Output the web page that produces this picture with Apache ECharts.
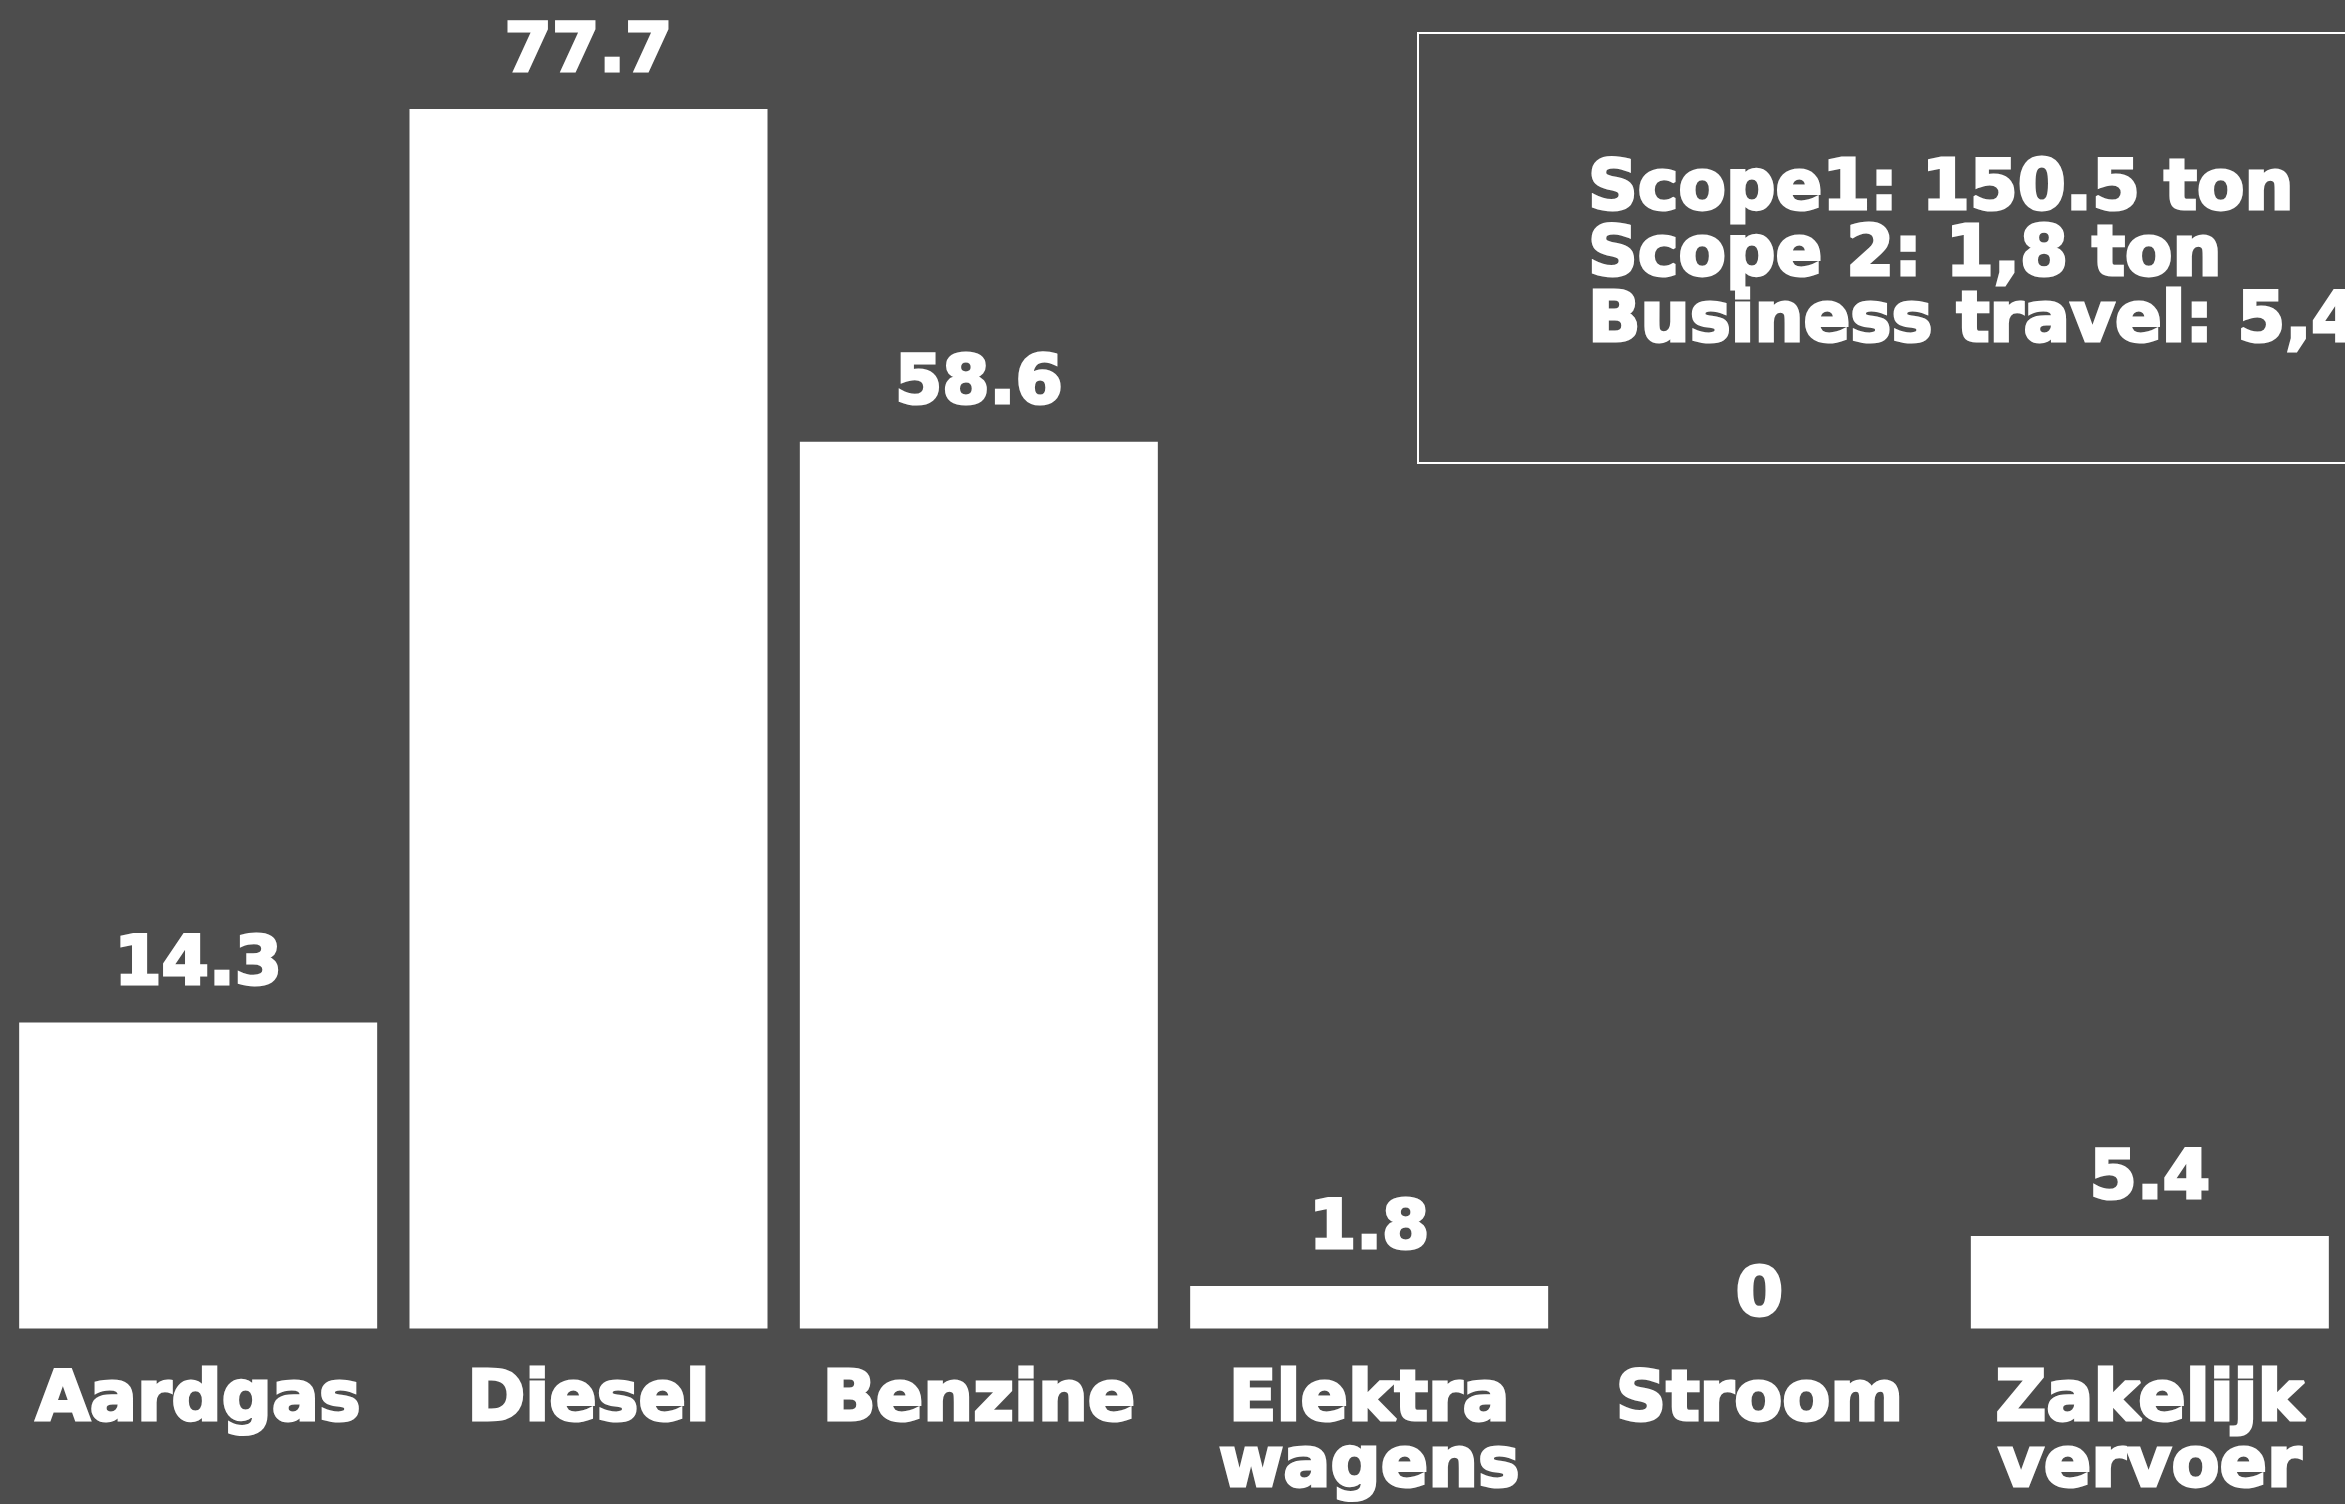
<!DOCTYPE html>
<html>
<head>
<meta charset="utf-8">
<title>CO2 uitstoot</title>
<script src="https://cdn.jsdelivr.net/npm/echarts@6/dist/echarts.min.js"></script>
<style>
	html, body { margin: 0; padding: 0; background: #4d4d4d; }
	#chart { width: 2345px; height: 1504px; }
</style>
</head>
<body>
<div id="chart"></div>
<script>
var categories = ['Aardgas', 'Diesel', 'Benzine', 'Elektra\nwagens', 'Stroom', 'Zakelijk\nvervoer'];
// labels as printed above the bars
var labelValues = [14.3, 77.7, 58.6, 1.8, 0, 5.4];
// bar heights as drawn in the picture (the original is not to scale with its labels)
var barHeights = [19.5, 77.7, 56.5, 2.7, 0, 5.9];
var summaryLines = ['Scope1: 150.5 ton', 'Scope 2: 1,8 ton', 'Business travel: 5,4 ton'];

var FONT = '"DejaVu Sans", Verdana, sans-serif';
// the source lettering is heavier than DejaVu Bold, so thicken it with a white outline
var HEAVY = { textBorderColor: '#ffffff', textBorderWidth: 3 };

/*-----uitstoot grafiek S------*/
function drawUitstootChart(id){
	var seriesData = [];
	for(var i = 0; i < barHeights.length; i++){
		var item = { value: barHeights[i] };
		if(labelValues[i] === 0){
			item.label = { offset: [0, 25] };
		}
		seriesData.push(item);
	}
	var option = {
		backgroundColor: '#4d4d4d',
		animation: false,
		grid: {
			left: 3,
			right: -13,
			top: 109,
			bottom: 173.5
		},
		xAxis: {
			type: 'category',
			data: categories,
			axisLine: { show: false },
			axisTick: { show: false },
			splitLine: { show: false },
			axisLabel: {
				interval: 0,
				margin: 40,
				color: '#ffffff',
				fontFamily: FONT,
				fontWeight: 'bold',
				fontSize: 70,
				lineHeight: 66,
				textBorderColor: HEAVY.textBorderColor,
				textBorderWidth: HEAVY.textBorderWidth
			}
		},
		yAxis: {
			type: 'value',
			min: 0,
			max: 77.7,
			show: false,
			splitLine: { show: false }
		},
		series: [
			{
				type: 'bar',
				data: seriesData,
				barWidth: 358,
				itemStyle: { color: '#ffffff' },
				label: {
					show: true,
					position: 'top',
					distance: 20,
					color: '#ffffff',
					fontFamily: FONT,
					fontWeight: 'bold',
					fontSize: 68,
					lineHeight: 72,
					textBorderColor: HEAVY.textBorderColor,
					textBorderWidth: HEAVY.textBorderWidth,
					formatter: function(p){
						return String(labelValues[p.dataIndex]);
					}
				}
			}
		],
		graphic: [
			{
				type: 'rect',
				shape: { x: 1418, y: 33, width: 1000, height: 430 },
				style: { fill: 'none', stroke: '#ffffff', lineWidth: 2 }
			},
			{
				type: 'text',
				x: 1588,
				y: 158,
				style: {
					text: summaryLines.join('\n'),
					fill: '#ffffff',
					font: 'bold 69px ' + FONT,
					lineHeight: 66,
					verticalAlign: 'top',
					stroke: HEAVY.textBorderColor,
					lineWidth: HEAVY.textBorderWidth
				}
			}
		]
	};
	echarts.init(document.getElementById(id)).setOption(option, true);
}
/*-----uitstoot grafiek E------*/

drawUitstootChart('chart');
</script>
</body>
</html>
